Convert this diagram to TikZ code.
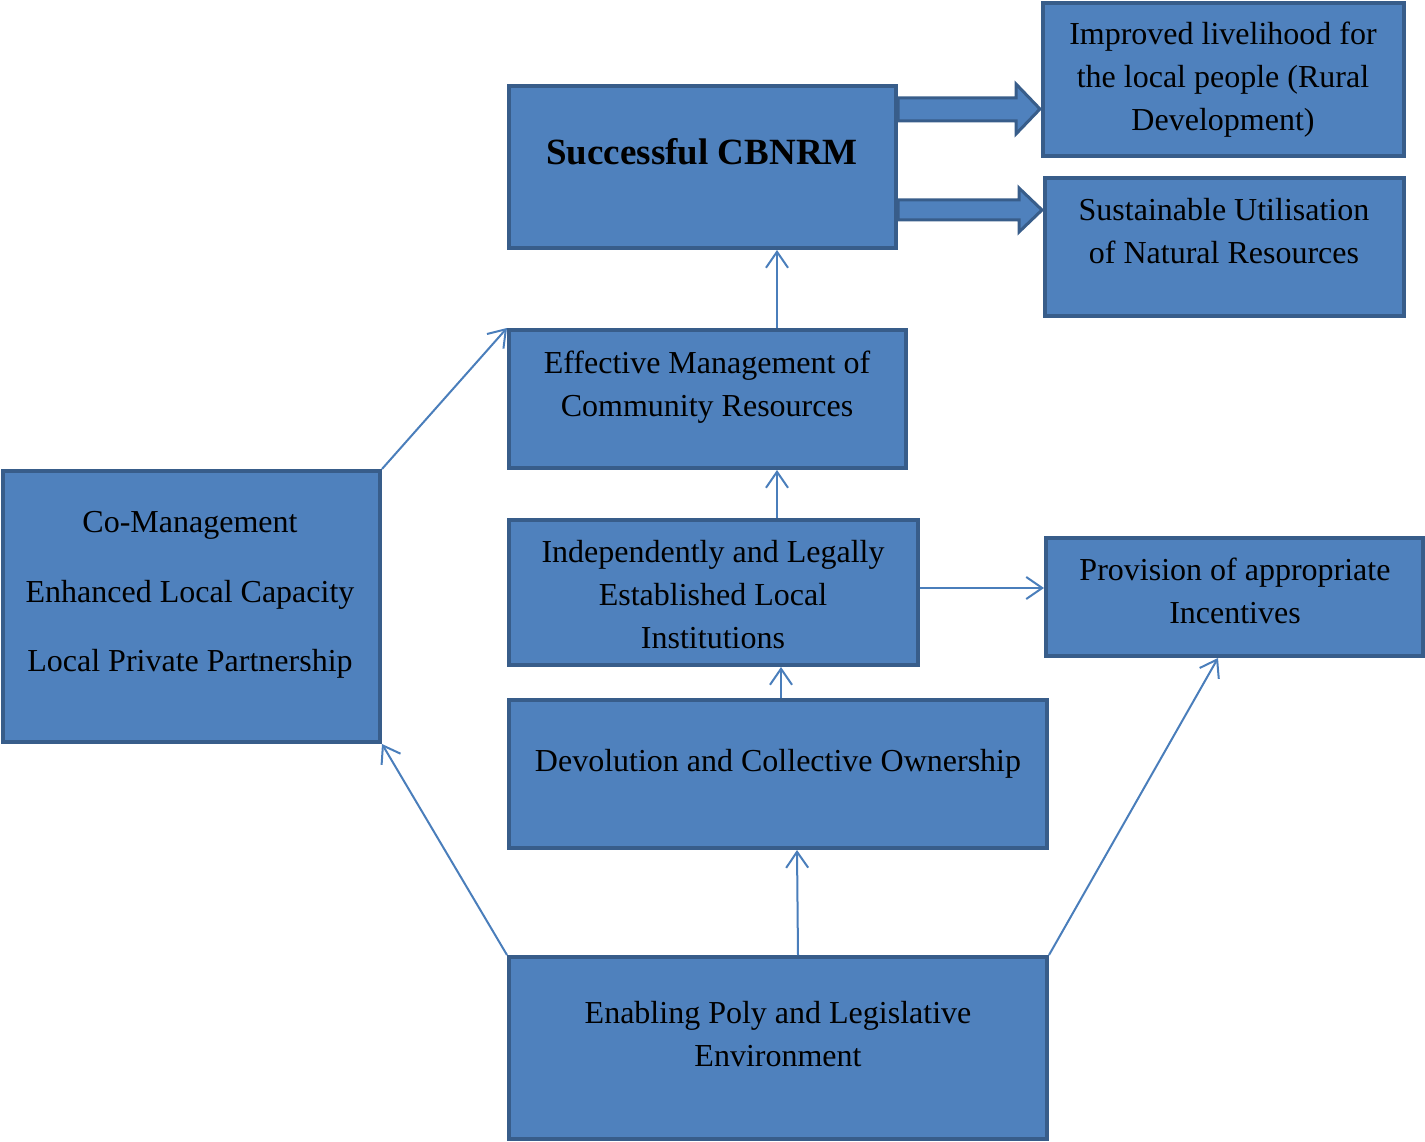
\documentclass[tikz,border=0pt]{standalone}
\usepackage{fontspec}
\setmainfont{Liberation Serif}
\usetikzlibrary{arrows.meta,fit}
\definecolor{boxfill}{HTML}{4F81BD}
\definecolor{boxline}{HTML}{385D8A}
\definecolor{arrline}{HTML}{4A7EBB}
\begin{document}
\begin{tikzpicture}[x=1pt,y=-1pt,
  box/.style={draw=boxline, fill=boxfill, line width=4pt, rectangle, inner sep=0pt},
  txt/.style={align=center, inner sep=0pt, font=\fontsize{32}{43}\selectfont},
  conn/.style={draw=arrline, line width=2pt, -{Straight Barb[length=16pt,width=22pt,line width=2pt]}},
  blockarrow/.style={draw=boxline, fill=boxfill, line width=3pt, line join=miter}]
\useasboundingbox (0,0) rectangle (1425,1142);

% boxes
\node[box, fit={(509,86) (896,248)}] (succ) {};
\node[box, fit={(1043,3) (1404,156)}] (impr) {};
\node[box, fit={(1045,178) (1404,316)}] (sust) {};
\node[box, fit={(509,330) (906,468)}] (eff) {};
\node[box, fit={(509,520) (918,665)}] (indep) {};
\node[box, fit={(1046,538) (1423,656)}] (prov) {};
\node[box, fit={(509,700) (1047,848)}] (devo) {};
\node[box, fit={(509,957) (1047,1139)}] (enab) {};
\node[box, fit={(3,471) (380,742)}] (coman) {};

% texts
\node[txt, font=\bfseries\fontsize{37}{44}\selectfont] (succT) at (702,152) {Successful CBNRM};
\node[txt] (imprT) at (1223,80) {Improved livelihood for\\the local people (Rural\\Development)};
\node[txt] (sustT) at (1224,231) {Sustainable Utilisation\\of Natural Resources};
\node[txt] (effT) at (707,387) {Effective Management of\\Community Resources};
\node[txt] (indepT) at (713,595) {Independently and Legally\\Established Local\\Institutions};
\node[txt] (provT) at (1235,591) {Provision of appropriate\\Incentives};
\node[txt] (devoT) at (778,764) {Devolution and Collective Ownership};
\node[txt] (enabT) at (778,1034) {Enabling Poly and Legislative\\Environment};
\node[txt, font=\fontsize{32}{69.5}\selectfont] (comanT) at (190,595) {Co-Management\\Enhanced Local Capacity\\Local Private Partnership};

% block arrows
\path[blockarrow] (succ.east |- 0,98) -- (1016,98) -- (1016,84) -- (1040,109)
  -- (1016,134) -- (1016,121) -- (succ.east |- 0,121) -- cycle;
\path[blockarrow] (succ.east |- 0,200) -- (1019,200) -- (1019,188) -- (1042,210)
  -- (1019,232) -- (1019,220) -- (succ.east |- 0,220) -- cycle;

% connectors
\draw[conn] (eff.north -| 777,0) -- (succ.south -| 777,0);
\draw[conn] (indep.north -| 777,0) -- (eff.south -| 777,0);
\draw[conn] (devo.north -| 781,0) -- (indep.south -| 781,0);
\draw[conn] (enab.north -| 798,0) -- (devo.south -| 797,0);
\draw[conn] (indep.east |- 0,588) -- (prov.west |- 0,588);
\draw[conn] (enab.north west) -- (coman.south east);
\draw[conn] (coman.north east) -- (eff.north west);
\draw[conn] (enab.north east) -- (prov.south -| 1218,0);
\end{tikzpicture}
\end{document}
